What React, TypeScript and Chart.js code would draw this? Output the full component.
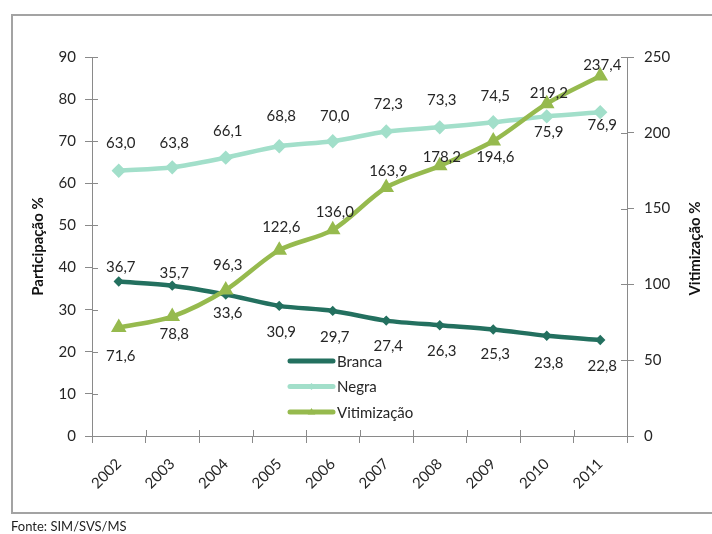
import React, { useEffect, useRef } from "react";
import { Chart, registerables } from "chart.js";

Chart.register(...registerables);

const years = ["2002", "2003", "2004", "2005", "2006", "2007", "2008", "2009", "2010", "2011"];
const branca = [36.7, 35.7, 33.6, 30.9, 29.7, 27.4, 26.3, 25.3, 23.8, 22.8];
const negra = [63.0, 63.8, 66.1, 68.8, 70.0, 72.3, 73.3, 74.5, 75.9, 76.9];
const vitimizacao = [71.6, 78.8, 96.3, 122.6, 136.0, 163.9, 178.2, 194.6, 219.2, 237.4];

const seriesNames = ["Branca", "Negra", "Vitimização"];
const leftAxisTitle = "Participação %";
const rightAxisTitle = "Vitimização %";
const sourceText = "Fonte: SIM/SVS/MS";

// label vertical offsets (style only)
const brancaDy = [-14, -13, 19, 26, 26, 26, 26, 25, 27, 26];
const negraDy = [-28, -24, -26, -30, -25, -27, -27, -26, 16, 13];
const vitDy = [29, 18, -25, -23, -18, -16, -9, 16, -11, -11];

const C_BRANCA = "#23705F";
const C_NEGRA = "#A2DFCA";
const C_VIT = "#96BA4E";
const AXIS = "#8a8a8a";
const TEXT = "#262626";
const FONT = "Lato, 'Open Sans', sans-serif";

const fmt = (v: number) => v.toFixed(1).replace(".", ",");

function drawMarker(ctx: CanvasRenderingContext2D, style: string, r: number, x: number, y: number) {
  ctx.beginPath();
  if (style === "triangle") {
    ctx.moveTo(x, y - r);
    ctx.lineTo(x + r * 0.95, y + r * 0.6);
    ctx.lineTo(x - r * 0.95, y + r * 0.6);
  } else {
    ctx.moveTo(x, y - r);
    ctx.lineTo(x + r, y);
    ctx.lineTo(x, y + r);
    ctx.lineTo(x - r, y);
  }
  ctx.closePath();
  ctx.fill();
}

const extrasPlugin = {
  id: "extras",
  beforeDraw(chart: any) {
    const ctx = chart.ctx;
    ctx.save();
    ctx.strokeStyle = "#a3a3a3";
    ctx.lineWidth = 2;
    ctx.strokeRect(12, 15, 760, 498);
    ctx.fillStyle = "#1f1f1f";
    ctx.font = `13px ${FONT}`;
    ctx.textAlign = "left";
    ctx.textBaseline = "middle";
    ctx.fillText(sourceText, 11, 527);
    ctx.restore();
  },
  afterDraw(chart: any) {
    const ctx = chart.ctx;
    const y = chart.scales.y;
    const y1 = chart.scales.y1;
    const x = chart.scales.x;
    const area = chart.chartArea;
    ctx.save();
    ctx.strokeStyle = AXIS;
    ctx.lineWidth = 1;
    // inner tick marks
    y.ticks.forEach((t: any) => {
      const py = Math.round(y.getPixelForValue(t.value)) + 0.5;
      ctx.beginPath();
      ctx.moveTo(area.left, py);
      ctx.lineTo(area.left + 6, py);
      ctx.stroke();
    });
    y1.ticks.forEach((t: any) => {
      const py = Math.round(y1.getPixelForValue(t.value)) + 0.5;
      ctx.beginPath();
      ctx.moveTo(area.right - 6, py);
      ctx.lineTo(area.right, py);
      ctx.stroke();
    });
    const n = years.length;
    const step = x.getPixelForValue(1) - x.getPixelForValue(0);
    for (let i = 0; i <= n; i++) {
      const px = Math.round(x.getPixelForValue(0) - step / 2 + i * step) + 0.5;
      ctx.beginPath();
      ctx.moveTo(px, area.bottom - 6);
      ctx.lineTo(px, area.bottom);
      ctx.stroke();
    }

    // axis titles
    ctx.fillStyle = "#111";
    ctx.font = `bold 15px ${FONT}`;
    ctx.textAlign = "center";
    ctx.textBaseline = "middle";
    ctx.save();
    ctx.translate(38, (area.top + area.bottom) / 2);
    ctx.rotate(-Math.PI / 2);
    ctx.fillText(leftAxisTitle, 0, 0);
    ctx.restore();
    ctx.save();
    ctx.translate(695, (area.top + area.bottom) / 2 + 2);
    ctx.rotate(-Math.PI / 2);
    ctx.fillText(rightAxisTitle, 0, 0);
    ctx.restore();

    // legend
    const colors = [C_BRANCA, C_NEGRA, C_VIT];
    const styles = ["none", "rectRot", "triangle"];
    const radii = [0, 3.5, 4];
    const lx0 = area.left + 198;
    const lx1 = area.left + 241;
    const ly0 = area.top + 304;
    seriesNames.forEach((name, i) => {
      const ly = ly0 + i * 25.5;
      ctx.strokeStyle = colors[i];
      ctx.lineWidth = 5;
      ctx.lineCap = "round";
      ctx.beginPath();
      ctx.moveTo(lx0, ly);
      ctx.lineTo(lx1, ly);
      ctx.stroke();
      ctx.fillStyle = colors[i];
      if (styles[i] !== "none") drawMarker(ctx, styles[i], radii[i], (lx0 + lx1) / 2, ly);
      ctx.fillStyle = TEXT;
      ctx.font = `15px ${FONT}`;
      ctx.textAlign = "left";
      ctx.textBaseline = "middle";
      ctx.fillText(name, lx1 + 4, ly + 1);
    });
    ctx.restore();
  },
  afterDatasetsDraw(chart: any) {
    const ctx = chart.ctx;
    const offs = [brancaDy, negraDy, vitDy];
    ctx.save();
    ctx.fillStyle = TEXT;
    ctx.font = `15px ${FONT}`;
    ctx.textAlign = "center";
    ctx.textBaseline = "middle";
    chart.data.datasets.forEach((ds: any, di: number) => {
      const meta = chart.getDatasetMeta(di);
      meta.data.forEach((pt: any, i: number) => {
        ctx.fillText(fmt(ds.data[i]), pt.x + 2, pt.y + offs[di][i]);
      });
    });
    ctx.restore();
  },
};

export default function App() {
  const ref = useRef<HTMLCanvasElement>(null);
  useEffect(() => {
    if (!ref.current) return;
    Chart.defaults.font.family = FONT;
    const chart = new Chart(ref.current, {
      type: "line",
      data: {
        labels: years,
        datasets: [
          {
            label: seriesNames[0],
            data: branca,
            yAxisID: "y",
            borderColor: C_BRANCA,
            backgroundColor: C_BRANCA,
            borderWidth: 4.5,
            pointStyle: "rectRot",
            pointRadius: 2,
            tension: 0.3,
            order: 2,
          },
          {
            label: seriesNames[1],
            data: negra,
            yAxisID: "y",
            borderColor: C_NEGRA,
            backgroundColor: C_NEGRA,
            borderWidth: 4.5,
            pointStyle: "rectRot",
            pointRadius: 4,
            tension: 0.3,
            order: 1,
          },
          {
            label: seriesNames[2],
            data: vitimizacao,
            yAxisID: "y1",
            borderColor: C_VIT,
            backgroundColor: C_VIT,
            borderWidth: 4.5,
            pointStyle: "triangle",
            pointRadius: 4.5,
            tension: 0.3,
            order: 0,
          },
        ],
      },
      options: {
        responsive: false,
        animation: false,
        layout: { padding: { top: 57, left: 0, right: 0, bottom: 0 } },
        plugins: { legend: { display: false }, tooltip: { enabled: false } },
        scales: {
          x: {
            offset: true,
            grid: { offset: true, drawOnChartArea: false, color: AXIS, tickLength: 7 },
            border: { color: AXIS, width: 1 },
            ticks: {
              minRotation: 45,
              maxRotation: 45,
              color: TEXT,
              font: { size: 15 },
              padding: 12,
            },
            afterFit: (s: any) => {
              s.height = 98;
            },
          },
          y: {
            position: "left",
            min: 0,
            max: 90,
            ticks: { stepSize: 10, color: TEXT, font: { size: 15 }, padding: 9 },
            grid: { drawOnChartArea: false, color: AXIS, tickLength: 7 },
            border: { color: AXIS, width: 1 },
            afterFit: (s: any) => {
              s.width = 92;
            },
          },
          y1: {
            position: "right",
            min: 0,
            max: 250,
            ticks: { stepSize: 50, color: TEXT, font: { size: 15 }, padding: 10 },
            grid: { drawOnChartArea: false, color: AXIS, tickLength: 7 },
            border: { color: AXIS, width: 1 },
            afterFit: (s: any) => {
              s.width = 85;
            },
          },
        },
      },
      plugins: [extrasPlugin],
    } as any);
    return () => chart.destroy();
  }, []);
  return (
    <div style={{ position: "fixed", left: 0, top: 0, width: 712, height: 534, background: "#fff" }}>
      <canvas ref={ref} width={712} height={534} style={{ display: "block" }} />
    </div>
  );
}
